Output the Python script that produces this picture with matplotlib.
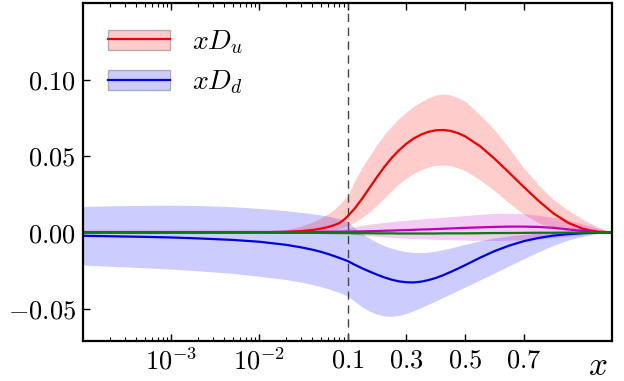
import numpy as np
import matplotlib
matplotlib.use("Agg")
import matplotlib.pyplot as plt
from matplotlib.patches import Patch
from matplotlib.lines import Line2D

plt.rcParams["mathtext.fontset"] = "cm"
plt.rcParams["font.family"] = ["DejaVu Serif"]

# momentum fraction grid (log part below 0.1, linear part above)
x = [1e-4, 2e-4, 5e-4, 1e-3, 2e-3, 5e-3, 0.01, 0.02, 0.03, 0.04, 0.05,
     0.06, 0.07, 0.08, 0.09, 0.1, 0.125, 0.15, 0.175, 0.2, 0.225,
     0.25, 0.275, 0.3, 0.325, 0.35, 0.375, 0.4, 0.425, 0.45, 0.475,
     0.5, 0.55, 0.6, 0.65, 0.7, 0.75, 0.8, 0.85, 0.9, 0.95, 1.0]

# xD_u (red)
du = [0, 0, 0, 0, 0, 0, 0.0001, 0.0004, 0.0009, 0.0016, 0.0025,
      0.0035, 0.0047, 0.006, 0.0081, 0.0105, 0.0158, 0.0222, 0.0292, 0.0362, 0.0428,
      0.0487, 0.0537, 0.058, 0.0614, 0.064, 0.0658, 0.0668, 0.067, 0.0664, 0.065,
      0.0628, 0.0565, 0.0482, 0.039, 0.0296, 0.0206, 0.0125, 0.0063, 0.0024, 0.0005, 0]
du_hi = [0, 0, 0, 0, 0, 0, 0.0003, 0.0018, 0.0042, 0.0068, 0.0095,
         0.0122, 0.015, 0.018, 0.021, 0.024, 0.034, 0.0428, 0.05, 0.0575, 0.064,
         0.0695, 0.0745, 0.0788, 0.0825, 0.0855, 0.088, 0.0898, 0.0905, 0.0899, 0.0882,
         0.0858, 0.077, 0.067, 0.055, 0.042, 0.031, 0.0215, 0.0145, 0.0085, 0.0038, 0]
du_lo = [0, 0, 0, 0, 0, 0, 0, 0, 0, 0.0003, 0.0006,
         0.001, 0.0016, 0.0024, 0.0033, 0.0043, 0.0068, 0.0098, 0.0135, 0.0178, 0.0224,
         0.0272, 0.0318, 0.0355, 0.0385, 0.041, 0.0428, 0.0438, 0.0441, 0.0436, 0.0423,
         0.0403, 0.0345, 0.0272, 0.0192, 0.0118, 0.0062, 0.0028, 0.0012, 0.0004, 0.0001, 0]

# xD_d (blue)
dd = [-0.0022, -0.0025, -0.0029, -0.0033, -0.0039, -0.0049, -0.0061, -0.0081, -0.0098, -0.0113, -0.0127,
      -0.0141, -0.0154, -0.0166, -0.0177, -0.0187, -0.0212, -0.0235, -0.0256, -0.0276, -0.0294,
      -0.0309, -0.032, -0.0326, -0.0327, -0.0322, -0.0312, -0.0298, -0.028, -0.0259, -0.0237,
      -0.0214, -0.0166, -0.0122, -0.0086, -0.0057, -0.0036, -0.0021, -0.0011, -0.0005, -0.0001, 0]
dd_hi = [0.017, 0.0174, 0.0177, 0.0178, 0.0176, 0.0168, 0.0157, 0.0142, 0.0131, 0.0122, 0.0114,
         0.0106, 0.0098, 0.009, 0.0081, 0.0072, 0.0028, -0.0008, -0.0038, -0.0065, -0.0087,
         -0.0104, -0.0117, -0.0126, -0.0131, -0.0132, -0.0129, -0.0122, -0.0113, -0.0102, -0.009,
         -0.0078, -0.0055, -0.0036, -0.0022, -0.0012, -0.0006, -0.0003, -0.0001, 0, 0, 0]
dd_lo = [-0.0213, -0.0221, -0.0231, -0.024, -0.0251, -0.0268, -0.0287, -0.0308, -0.0326, -0.0341, -0.0355,
         -0.0368, -0.0381, -0.0393, -0.0404, -0.0415, -0.0452, -0.0488, -0.0515, -0.0535, -0.0546,
         -0.0549, -0.0543, -0.053, -0.0512, -0.0492, -0.047, -0.0448, -0.0426, -0.0403, -0.038,
         -0.0357, -0.0311, -0.0265, -0.0218, -0.0172, -0.0127, -0.0085, -0.005, -0.0025, -0.0009, 0]

# magenta curve
dm = [0.0003, 0.0003, 0.0003, 0.0003, 0.0003, 0.0003, 0.0003, 0.0003, 0.0003, 0.0003, 0.0004,
      0.0004, 0.0004, 0.0004, 0.0005, 0.0005, 0.0006, 0.0007, 0.0008, 0.0009, 0.0011,
      0.0012, 0.0014, 0.0015, 0.0017, 0.0019, 0.002, 0.0022, 0.0024, 0.0026, 0.0028,
      0.003, 0.0033, 0.0036, 0.0038, 0.0038, 0.0036, 0.003, 0.002, 0.001, 0.0003, 0]
dm_hi = [0.0008, 0.0008, 0.0008, 0.0008, 0.0008, 0.0008, 0.0008, 0.0009, 0.001, 0.0012, 0.0014,
         0.0016, 0.0018, 0.0021, 0.0023, 0.0026, 0.0037, 0.0046, 0.0054, 0.006, 0.0066,
         0.0071, 0.0076, 0.008, 0.0084, 0.0088, 0.0092, 0.0095, 0.0099, 0.0103, 0.0107,
         0.011, 0.0118, 0.0124, 0.0126, 0.0122, 0.0112, 0.0098, 0.008, 0.0056, 0.0029, 0]
dm_lo = [-0.0003, -0.0003, -0.0003, -0.0003, -0.0003, -0.0003, -0.0003, -0.0003, -0.0004, -0.0005, -0.0005,
         -0.0006, -0.0007, -0.0008, -0.0009, -0.001, -0.0014, -0.0018, -0.0022, -0.0025, -0.0029,
         -0.0032, -0.0035, -0.0038, -0.004, -0.0042, -0.0044, -0.0045, -0.0047, -0.0048, -0.0049,
         -0.005, -0.0052, -0.0053, -0.0051, -0.0048, -0.0042, -0.0035, -0.0025, -0.0015, -0.0006, 0]

# green curve
dg = [-0.0002, -0.0002, -0.0002, -0.0002, -0.0002, -0.0002, -0.0002, -0.0003, -0.0003, -0.0003, -0.0003,
      -0.0004, -0.0004, -0.0004, -0.0004, -0.0004, -0.0005, -0.0005, -0.0005, -0.0006, -0.0006,
      -0.0006, -0.0007, -0.0007, -0.0007, -0.0007, -0.0007, -0.0007, -0.0006, -0.0006, -0.0006,
      -0.0006, -0.0005, -0.0004, -0.0004, -0.0003, -0.0002, -0.0002, -0.0001, -0.0001, 0, 0]

xticks = [1e-3, 1e-2, 0.1, 0.3, 0.5, 0.7]
xticklabels = [r"$10^{-3}$", r"$10^{-2}$", r"$0.1$", r"$0.3$", r"$0.5$", r"$0.7$"]
yticks = [-0.05, 0.0, 0.05, 0.10]
yticklabels = [r"$-0.05$", r"$0.00$", r"$0.05$", r"$0.10$"]


# log below 0.1, linear above, each taking half the axis
def fwd(v):
    v = np.asarray(v, dtype=float)
    lg = (np.log10(np.clip(v, 1e-12, None)) + 4) / 3
    return np.where(v < 0.1, lg, 1 + (v - 0.1) / 0.9)


def inv(t):
    t = np.asarray(t, dtype=float)
    return np.where(t < 1, 10 ** (3 * np.minimum(t, 1) - 4), 0.1 + (t - 1) * 0.9)


fig = plt.figure(figsize=(6.24, 3.81), dpi=100)
ax = fig.add_axes([0.133, 0.105, 0.848, 0.887])
ax.set_xscale("function", functions=(fwd, inv))

ax.fill_between(x, dd_lo, dd_hi, color="blue", alpha=0.2, lw=0)
ax.fill_between(x, du_lo, du_hi, color="red", alpha=0.2, lw=0)
ax.fill_between(x, dm_lo, dm_hi, color="m", alpha=0.2, lw=0)

ax.plot(x, du, color="#ee0000", lw=1.6)
ax.plot(x, dd, color="#0000dd", lw=1.6)
ax.plot(x, dm, color="#bb00bb", lw=1.6)
ax.plot(x, dg, color="#008000", lw=1.6)

ax.axvline(0.1, color="#444444", lw=1.0, ls=(0, (6, 4)))

ax.set_xlim(1e-4, 1.0)
ax.set_ylim(-0.071, 0.15)

ax.set_xticks(xticks)
ax.set_xticklabels(xticklabels)
minor = [k * 10.0 ** e for e in (-4, -3, -2) for k in range(2, 10)]
ax.set_xticks(minor, minor=True)
ax.set_yticks(yticks)
ax.set_yticklabels(yticklabels)
ax.tick_params(axis="x", which="both", direction="in", top=True, labelsize=19, pad=5)
ax.tick_params(axis="x", which="major", length=5, width=1)
ax.tick_params(axis="x", which="minor", length=3, width=0.8)
ax.tick_params(axis="y", direction="in", length=5, width=1, labelsize=19, pad=5)
for s in ax.spines.values():
    s.set_linewidth(1.6)

ax.set_xlabel(r"$x$", fontsize=24)
ax.xaxis.set_label_coords(0.972, -0.028)

handles = [
    (Patch(facecolor=(1, 0, 0, 0.2), edgecolor=(0.45, 0.45, 0.45, 0.5)),
     Line2D([], [], color="#ee0000", lw=1.6)),
    (Patch(facecolor=(0, 0, 1, 0.2), edgecolor=(0.45, 0.45, 0.45, 0.5)),
     Line2D([], [], color="#0000dd", lw=1.6)),
]
ax.legend(handles, [r"$xD_u$", r"$xD_d$"], loc="upper left",
          bbox_to_anchor=(0.048, 0.925), frameon=False, fontsize=20,
          handlelength=2.2, handleheight=0.75, handletextpad=0.8,
          labelspacing=0.45, borderaxespad=0, borderpad=0)

fig.savefig("out.png", dpi=100)
